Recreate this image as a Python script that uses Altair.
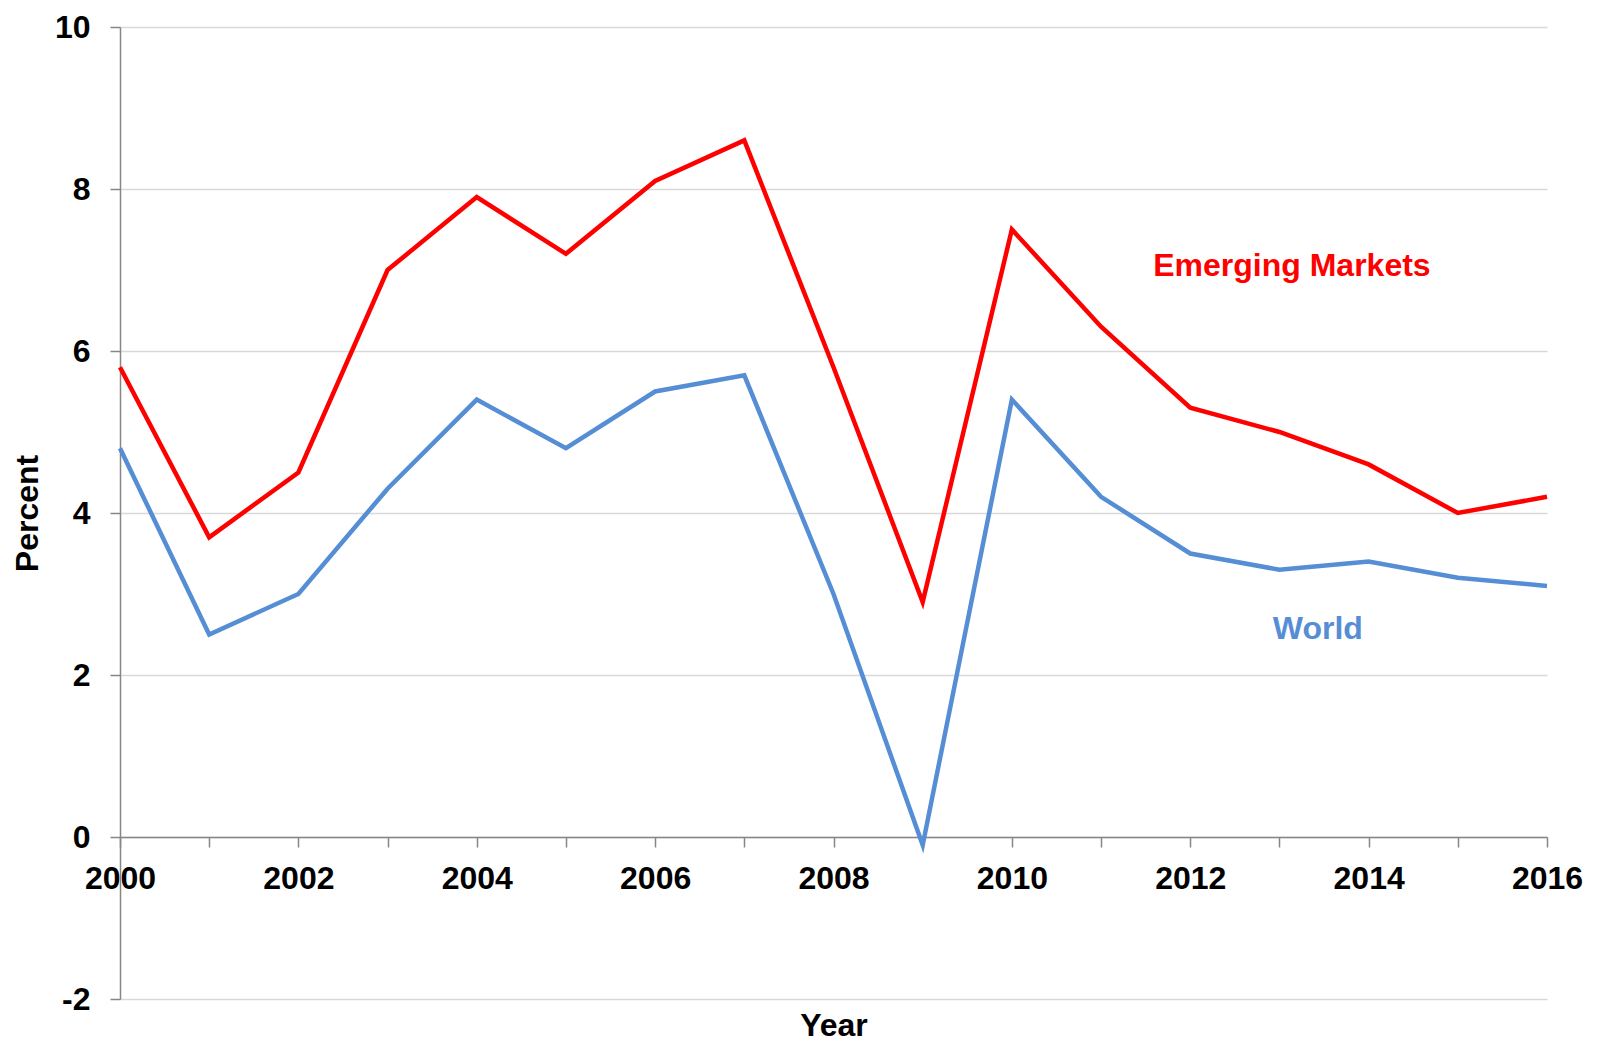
import altair as alt
import pandas as pd

years = list(range(2000, 2017))
emerging = [5.8, 3.7, 4.5, 7.0, 7.9, 7.2, 8.1, 8.6, 5.8, 2.9, 7.5, 6.3, 5.3, 5.0, 4.6, 4.0, 4.2]
world = [4.8, 2.5, 3.0, 4.3, 5.4, 4.8, 5.5, 5.7, 3.0, -0.1, 5.4, 4.2, 3.5, 3.3, 3.4, 3.2, 3.1]
series_names = ["Emerging Markets", "World"]
series_colors = ["#FF0000", "#558ED5"]
y_ticks = [-2, 0, 2, 4, 6, 8, 10]

rows = []
for name, vals in zip(series_names, [emerging, world]):
    for yr, v in zip(years, vals):
        rows.append({"Year": yr, "Percent": v, "Series": name})
df = pd.DataFrame(rows)

labels = pd.DataFrame({
    "Series": series_names,
    "x": [2013.14, 2013.43],
    "y": [6.93, 2.44],
})

FONT = "Liberation Sans"
W, H = 1427, 972

x_scale = alt.Scale(domain=[2000, 2016], nice=False, zero=False)
y_scale = alt.Scale(domain=[-2, 10], nice=False, zero=False)
color_scale = alt.Scale(domain=series_names, range=series_colors)

x_axis = alt.Axis(
    values=years,
    labelExpr="datum.value % 2 == 0 ? datum.value + '' : ''",
    grid=False,
    offset=-H * 2 / 12,
    domainColor="#868686",
    domainWidth=1.5,
    tickColor="#868686",
    tickWidth=1.5,
    tickSize=10,
    labelPadding=16,
    labelFont=FONT,
    labelFontSize=32,
    labelFontWeight="bold",
    labelColor="#000000",
    labelOverlap=False,
    labelFlush=False,
    title="Year",
    titleFont=FONT,
    titleFontSize=32,
    titleFontWeight="bold",
    titleColor="#000000",
    titleX=W / 2,
    titleY=198,
    titleBaseline="alphabetic",
    titleAnchor="middle",
)

y_axis = alt.Axis(
    values=y_ticks,
    labelExpr="datum.value + ''",
    grid=True,
    gridColor="#D9D9D9",
    gridWidth=1.5,
    domainColor="#868686",
    domainWidth=1.5,
    tickColor="#868686",
    tickWidth=1.5,
    tickSize=10,
    labelPadding=20,
    labelFont=FONT,
    labelFontSize=32,
    labelFontWeight="bold",
    labelColor="#000000",
    title="Percent",
    titleFont=FONT,
    titleFontSize=32,
    titleFontWeight="bold",
    titleColor="#000000",
    titleX=-93,
    titleY=H / 2,
    titleBaseline="middle",
    titleAngle=-90,
)

lines = alt.Chart(df).mark_line(strokeWidth=4.5, strokeJoin="miter").encode(
    x=alt.X("Year:Q", scale=x_scale, axis=x_axis),
    y=alt.Y("Percent:Q", scale=y_scale, axis=y_axis),
    color=alt.Color("Series:N", scale=color_scale, legend=None),
)

text = alt.Chart(labels).mark_text(
    font=FONT, fontSize=32, fontWeight="bold", align="center", baseline="alphabetic"
).encode(
    x=alt.X("x:Q", scale=x_scale),
    y=alt.Y("y:Q", scale=y_scale),
    text="Series:N",
    color=alt.Color("Series:N", scale=color_scale, legend=None),
)

chart = alt.layer(lines, text).properties(
    width=W,
    height=H,
    autosize=alt.AutoSizeParams(type="none"),
    padding={"left": 112, "top": 19, "right": 40, "bottom": 45},
    background="#FFFFFF",
).configure_view(stroke=None)

chart.save("out.html", embed_options={"renderer": "svg", "actions": False})
